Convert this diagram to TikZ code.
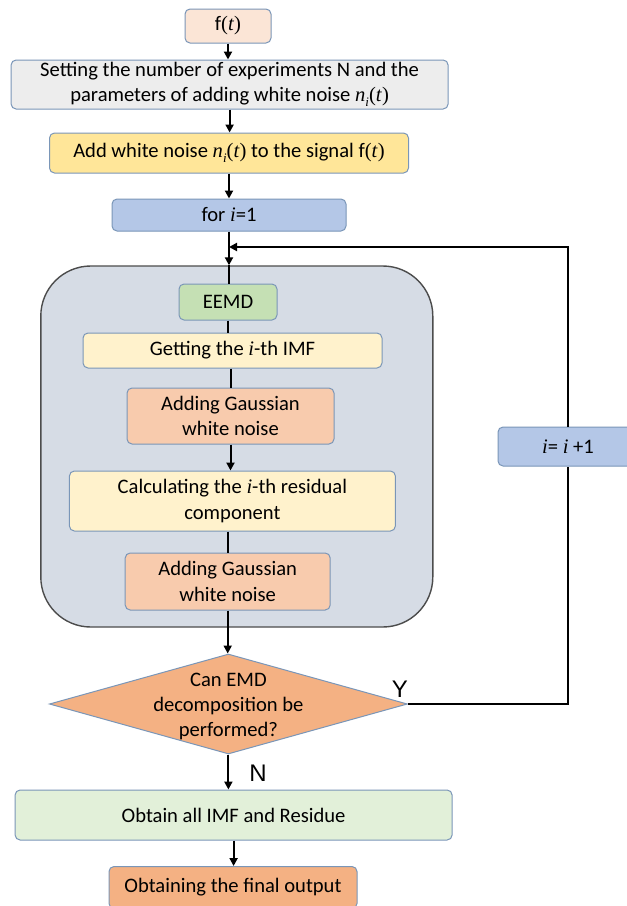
\documentclass[tikz,border=0pt]{standalone}
\usepackage{fontspec}
\setmainfont{Carlito}
\newfontfamily\ynfont{Liberation Sans}
\newfontfamily\mfont{Liberation Serif}
\newcommand\mi[1]{{\mfont\itshape #1}}
\newcommand\mtt{{\mfont(\textit{t})}}
\newcommand\nit{{\mfont\itshape n\raisebox{-0.25em}{\fontsize{13}{13}\selectfont i}}}
\usetikzlibrary{arrows.meta,shapes.geometric}
\definecolor{bordc}{HTML}{7A96B8}
\definecolor{cPeach}{HTML}{FBE5D6}
\definecolor{cGray}{HTML}{EDEDED}
\definecolor{cYellow}{HTML}{FFE699}
\definecolor{cBlue}{HTML}{B4C7E7}
\definecolor{cBig}{HTML}{D6DCE5}
\definecolor{cGreen}{HTML}{C5E0B4}
\definecolor{cLight}{HTML}{FFF2CC}
\definecolor{cSalmon}{HTML}{F8CBAD}
\definecolor{cOrange}{HTML}{F4B183}
\definecolor{cPale}{HTML}{E2F0D9}
\tikzset{
  box/.style={draw=bordc, line width=1pt, rounded corners=5pt, align=center, inner sep=0pt,
    font=\fontsize{20.6}{25.5}\selectfont},
  bigbox/.style={draw=black!70, line width=1.4pt, rounded corners=50pt, fill=cBig},
  decision/.style={draw=bordc, line width=1pt, diamond, fill=cOrange, inner sep=0pt, aspect=3.58,
    font=\fontsize{20.6}{25}\selectfont},
  conn/.style={line width=2pt, black},
  arr/.style={conn, -{Triangle[length=8pt,width=8pt]}},
  yn/.style={font=\ynfont\fontsize{24}{24}\selectfont, inner sep=0pt}
}
\begin{document}
\begin{tikzpicture}[x=1pt,y=-1pt]
\fill[white] (0,0) rectangle (627,906);
\useasboundingbox (0,0) rectangle (627,906);
\clip (0,0) rectangle (627,906);

\node[bigbox, minimum width=392pt, minimum height=361pt] (big) at (236.8,446.5) {};

\node[box, fill=cPeach, minimum width=86pt, minimum height=34pt] (ft) at (228,26) {f\mtt};
\node[box, fill=cGray, minimum width=437pt, minimum height=49pt] (set) at (229.6,84.5)
  {Setting the number of experiments N and the\\parameters of adding white noise \nit\mtt};
\node[box, fill=cYellow, minimum width=359pt, minimum height=40pt] (add) at (229,153)
  {Add white noise \nit\mtt{} to the signal f\mtt};
\node[box, fill=cBlue, minimum width=234pt, minimum height=32pt] (fori) at (229,215) {for \mi{i}=1};

\node[box, fill=cGreen, minimum width=98pt, minimum height=36pt] (eemd) at (228,302) {EEMD};
\node[box, fill=cLight, minimum width=299pt, minimum height=35pt] (get) at (232.5,350.5) {Getting the \mi{i}-th IMF};
\node[box, fill=cSalmon, minimum width=207pt, minimum height=56pt] (gauss1) at (230.5,416)
  {Adding Gaussian\\white noise};
\node[box, fill=cLight, minimum width=326pt, minimum height=60pt] (calc) at (232.4,501)
  {Calculating the \mi{i}-th residual\\component};
\node[box, fill=cSalmon, minimum width=205pt, minimum height=57pt] (gauss2) at (227.7,581.5)
  {Adding Gaussian\\white noise};

\node[decision, minimum width=358pt, minimum height=100pt] (dec) at (228.4,704)
  {\smash{\raisebox{-8pt}{\begin{tabular}{@{}c@{}}Can EMD\\decomposition be\\performed?\end{tabular}}}};

\node[box, fill=cPale, minimum width=437pt, minimum height=50pt] (obt) at (233.6,815)
  {Obtain all IMF and Residue};
\node[box, fill=cOrange, minimum width=248pt, minimum height=42pt] (fin) at (233,887.5)
  {Obtaining the final output};

\node[box, fill=cBlue, minimum width=140pt, minimum height=39pt] (inc) at (568,446.5) {\mi{i}= \mi{i} +1};

\node[yn, anchor=center] (ylab) at (400,689) {Y};
\node[yn, anchor=center] (nlab) at (258,773) {N};

\coordinate (rTop) at (fori.south |- big.north);
\coordinate (loopIn) at (fori.south |- 0,247);

% connectors
\draw[arr] (ft.south) -- (ft.south |- set.north);
\draw[arr] (set.south) -- (set.south |- add.north);
\draw[arr] (add.south) -- (add.south |- fori.north);
\draw[arr] (fori.south) -- (rTop);
\draw[conn] (rTop) -- (rTop |- eemd.north);
\draw[conn] (eemd.south) -- (eemd.south |- get.north);
\draw[conn] (gauss1.north |- get.south) -- (gauss1.north);
\draw[arr] (gauss1.south) -- (gauss1.south |- calc.north);
\draw[conn] (gauss2.north |- calc.south) -- (gauss2.north);
\draw[arr] (gauss2.south) -- (gauss2.south |- dec.north);
\draw[arr] (dec.south) -- (dec.south |- obt.north);
\draw[arr] (obt.south) -- (obt.south |- fin.north);
\draw[conn] (dec.east) -| (inc.south);
\draw[arr] (inc.north) |- (loopIn);
\end{tikzpicture}
\end{document}
